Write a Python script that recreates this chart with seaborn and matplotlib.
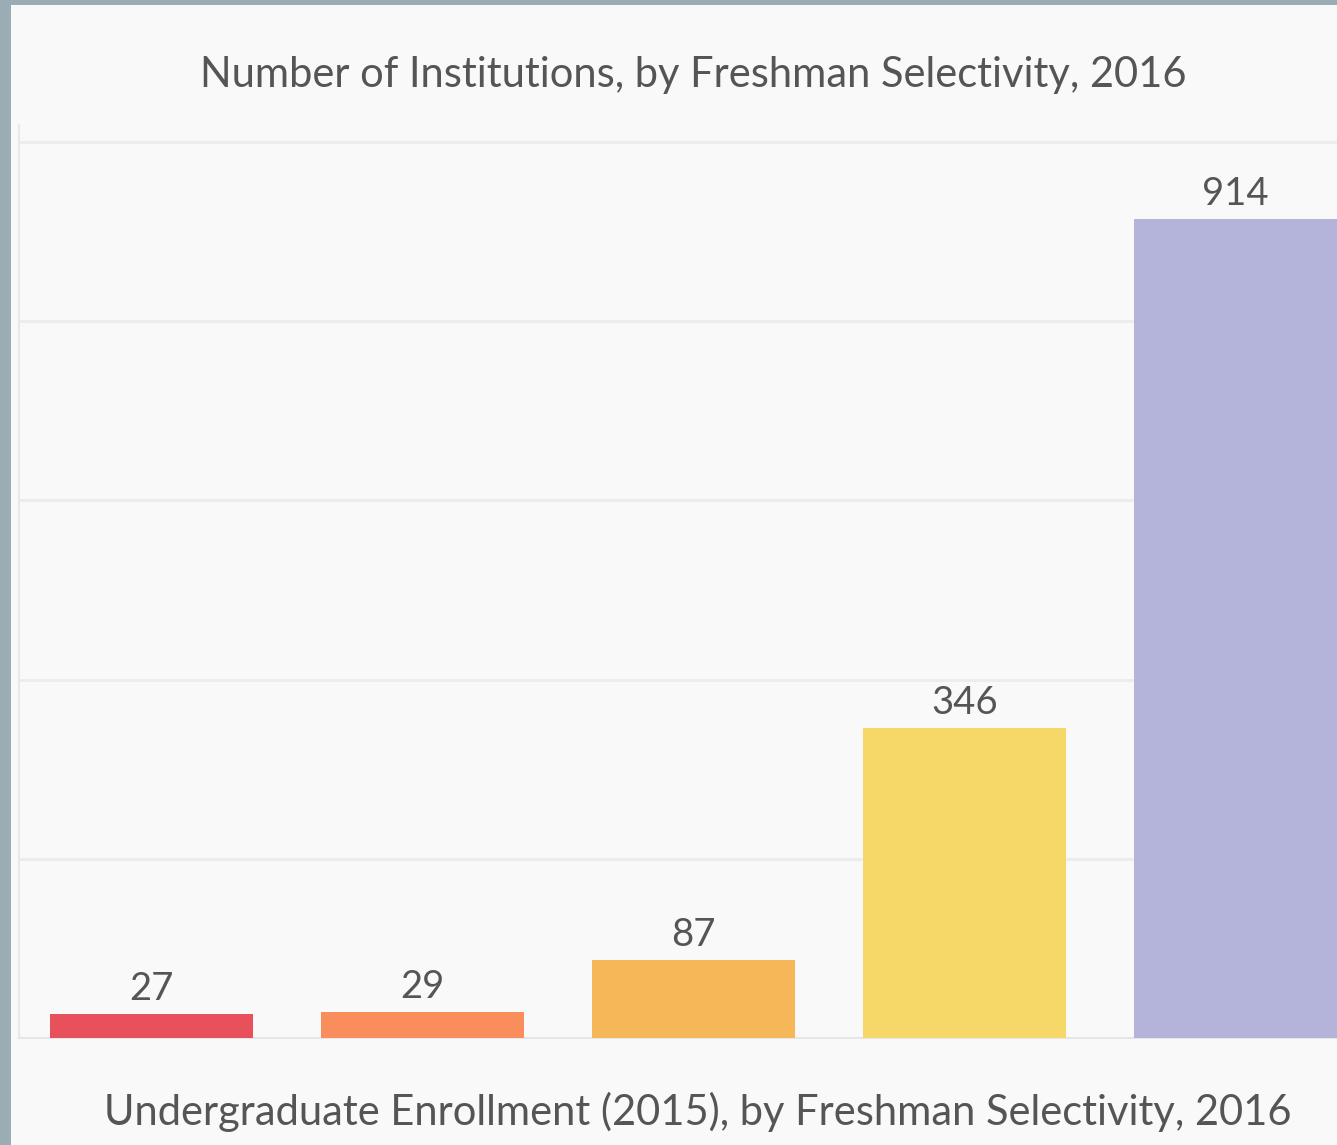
import matplotlib
matplotlib.use("Agg")
import matplotlib.pyplot as plt
from matplotlib.patches import Rectangle
import seaborn as sns

sns.set_theme(style="white")
plt.rcParams["font.family"] = ["Lato", "DejaVu Sans"]

# ── Data ─────────────────────────────────────────────────────────────
categories = ["Most Selective", "Very Selective", "Selective", "Less Selective", "Open Admission"]
counts = [27, 29, 87, 346, 914]
palette = ["#e8505b", "#f98d5c", "#f5b757", "#f5d867", "#b4b4da"]
grid_ticks = [0, 200, 400, 600, 800, 1000]

title = "Number of Institutions, by Freshman Selectivity, 2016"
next_title = "Undergraduate Enrollment (2015), by Freshman Selectivity, 2016"

BORDER = "#9aacb4"
PANEL = "#f9f9f9"
TEXT = "#555555"
GRID = "#ececec"

W, H = 1337, 1145
fig = plt.figure(figsize=(W / 100, H / 100), dpi=100, facecolor=BORDER)
fig.patches.append(Rectangle((11 / W, 0), 1 - 11 / W, 1 - 5 / H,
                             transform=fig.transFigure, facecolor=PANEL,
                             edgecolor="none", zorder=-10))

ax = fig.add_axes([19 / W, 1 - 1038 / H, 1 - 19 / W, (1038 - 125) / H])
ax.set_facecolor(PANEL)

sns.barplot(x=categories, y=counts, hue=categories, palette=palette,
            saturation=1, width=0.75, linewidth=0, legend=False, ax=ax, zorder=3)

for c in ax.containers:
    ax.bar_label(c, fmt="%d", padding=5, fontsize=27.5, color=TEXT)

ax.set_ylim(0, 1019)
ax.set_xlim(-0.49, 4.375)
ax.set_yticks(grid_ticks)
ax.yaxis.grid(True, color=GRID, linewidth=2)
ax.set_axisbelow(True)
ax.tick_params(left=False, bottom=False, labelleft=False, labelbottom=False)
ax.set_xlabel("")
ax.set_ylabel("")
for side in ["top", "right"]:
    ax.spines[side].set_visible(False)
ax.spines["left"].set_color("#e9e9e9")
ax.spines["left"].set_linewidth(1.5)
ax.spines["bottom"].set_color("#e6e6e6")
ax.spines["bottom"].set_linewidth(1.5)

fig.text(693 / W, 1 - 87 / H, title, ha="center", va="baseline",
         fontsize=30, color=TEXT)
fig.text(698 / W, 1 - 1125 / H, next_title, ha="center", va="baseline",
         fontsize=30, color=TEXT)

fig.savefig("out.png", dpi=100, facecolor=fig.get_facecolor())
